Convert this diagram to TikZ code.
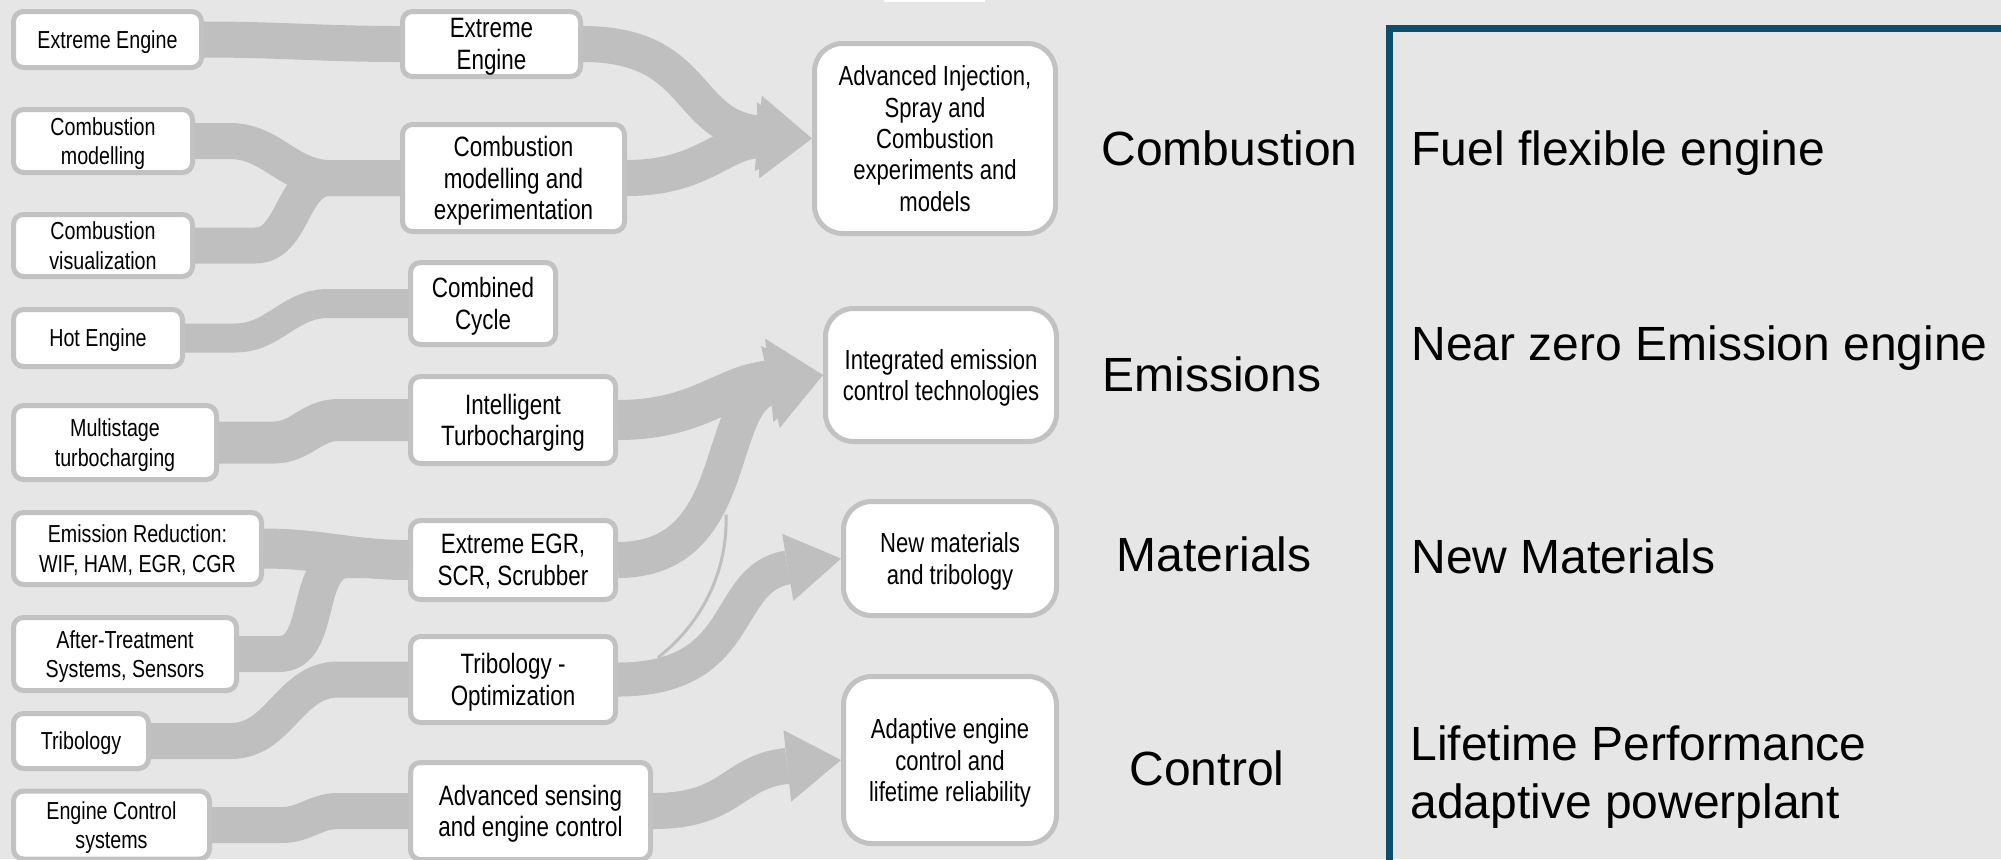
\documentclass[tikz,border=0pt]{standalone}
\usepackage{fontspec}
\setmainfont{Liberation Sans}
\newfontfamily\narrowfont[FakeStretch=0.8]{Liberation Sans}
\usetikzlibrary{arrows.meta, positioning, calc}
\definecolor{bggray}{HTML}{E6E6E6}
\definecolor{bandgray}{HTML}{BFBFBF}
\definecolor{rimgray}{HTML}{C2C2C2}
\definecolor{frameblue}{HTML}{0D4C6B}
\tikzset{
    srcbox/.style={draw=rimgray, line width=2.5pt, fill=white, rounded corners=5pt, inner sep=0pt, align=center, text depth=-2pt, font=\narrowfont\fontsize{12.3}{14.8}\selectfont},
    techbox/.style={srcbox, font=\narrowfont\fontsize{14}{15.8}\selectfont},
    goalbox/.style={srcbox, rounded corners=14pt, font=\narrowfont\fontsize{13.8}{15.7}\selectfont},
    band/.style={draw=bandgray, line width=18pt},
    bigband/.style={band, -{Triangle[length=27pt,width=#1,line width=0pt]}},
    bigband/.default=38pt,
    thinlink/.style={draw=bandgray, line width=1.5pt},
    areatext/.style={font=\fontsize{24}{28.7}\selectfont, inner sep=0pt},
}
\begin{document}
\begin{tikzpicture}[x=0.5pt, y=-0.5pt]
\useasboundingbox (0,0) rectangle (2001,859);
\clip (0,0) rectangle (2001,859);
\fill[bggray] (0,0) rectangle (2001,859);
\fill[white] (884,0) rectangle (985,1.5);

\node[srcbox, minimum width=94pt, minimum height=28pt] (l1) at (107.5,39.5) {Extreme Engine};
\node[srcbox, minimum width=89.5pt, minimum height=31.5pt] (l2) at (103,141) {Combustion\\modelling};
\node[srcbox, minimum width=89.5pt, minimum height=31pt] (l3) at (103,245.5) {Combustion\\visualization};
\node[srcbox, minimum width=84.5pt, minimum height=28.5pt] (l4) at (98,338) {Hot Engine};
\node[srcbox, minimum width=101.5pt, minimum height=37pt] (l5) at (115,442.5) {Multistage\\turbocharging};
\node[srcbox, minimum width=124pt, minimum height=36pt] (l6) at (137.5,548.5) {Emission Reduction:\\WIF, HAM, EGR, CGR};
\node[srcbox, minimum width=111.5pt, minimum height=36.5pt] (l7) at (125,654) {After-Treatment\\Systems, Sensors};
\node[srcbox, minimum width=67.5pt, minimum height=27.5pt] (l8) at (81,741) {Tribology};
\node[srcbox, minimum width=98pt, minimum height=34pt] (l9) at (111.5,825) {Engine Control\\systems};

\node[techbox, minimum width=89pt, minimum height=32.5pt] (m1) at (491.5,44) {Extreme\\Engine};
\node[techbox, minimum width=111pt, minimum height=53.5pt] (m2) at (513.5,178) {Combustion\\modelling and\\experimentation};
\node[techbox, minimum width=72.5pt, minimum height=41pt] (m3) at (483,303.5) {Combined\\Cycle};
\node[techbox, minimum width=102.5pt, minimum height=43.5pt] (m4) at (513,420) {Intelligent\\Turbocharging};
\node[techbox, minimum width=102.5pt, minimum height=39.5pt] (m5) at (513,560) {Extreme EGR,\\SCR, Scrubber};
\node[techbox, minimum width=102.5pt, minimum height=43pt] (m6) at (513,679.5) {Tribology -\\Optimization};
\node[techbox, minimum width=120pt, minimum height=48.5pt] (m7) at (530.5,811) {Advanced sensing\\and engine control};

\node[goalbox, minimum width=120.5pt, minimum height=95pt] (r1) at (935,138.5) {Advanced Injection,\\Spray and\\Combustion\\experiments and\\models};
\node[goalbox, minimum width=115.5pt, minimum height=66.5pt] (r2) at (941,375) {Integrated emission\\control technologies};
\node[goalbox, minimum width=106.5pt, minimum height=57pt] (r3) at (950,558.5) {New materials\\and tribology};
\node[goalbox, minimum width=106.5pt, minimum height=83.5pt] (r4) at (950,760) {Adaptive engine\\control and\\lifetime reliability};

\draw[band] (l1.east) to[out=0,in=180] (m1.west);
\draw[band] (l2.east) -- ++(35,0) to[out=0,in=180] ([xshift=-35pt]m2.west) -- (m2.west);
\draw[band] (l3.east) -- ++(60,0) to[out=0,in=180] ([xshift=-35pt]m2.west) -- (m2.west);
\draw[band, line width=14.5pt] (l4.east) -- ++(50,0) to[out=0,in=180] ([xshift=-40pt]m3.west) -- (m3.west);
\draw[band, line width=21pt] (l5.east) -- ++(55,0) to[out=0,in=180] ([xshift=-35pt]m4.west) -- (m4.west);
\draw[band, line width=20pt] (l6.east) to[out=0,in=180] (m5.west);
\draw[band] (l7.east) -- ++(40,0) to[out=0,in=180] ([xshift=-30pt]m5.west) -- (m5.west);
\draw[band] (l8.east) -- ++(80,0) to[out=0,in=180] ([xshift=-35pt]m6.west) -- (m6.west);
\draw[band] (l9.east) -- ++(70,0) to[out=0,in=180] ([xshift=-35pt]m7.west) -- (m7.west);

\draw[bigband] (m1.east) .. controls +(117,0) and +(-128,-12) .. (r1.west);
\draw[bigband] (m2.east) .. controls +(75,0) and +(-90,3) .. (r1.west);
\draw[bigband=42pt, line width=20pt] (m4.east) .. controls +(80,0) and +(-100,10) .. (r2.west);
\draw[bigband=42pt] (m5.east) .. controls +(125,0) and +(-110,25) .. (r2.west);
\draw[bigband=34pt, line width=17pt] (m6.east) .. controls +(130,0) and +(-120,20) .. (r3.west);
\draw[bigband=36pt] (m7.east) .. controls +(80,0) and +(-110,12) .. (r4.west);
\draw[thinlink] ([shift={(40,-22)}]m6.east) .. controls +(45,-35) and +(2,55) .. ([shift={(108,-165)}]m6.east);

\node[areatext, anchor=base] (comb) at (1229.5,165) {Combustion};
\node[areatext, anchor=base] (emis) at (1212,391) {Emissions};
\node[areatext, anchor=base] (mat) at (1214,571) {Materials};
\node[areatext, anchor=base] (ctrl) at (1207,785) {Control};

\draw[frameblue, line width=3.5pt] (1389.5,28.5) rectangle (2060,920);
\node[areatext, anchor=base west] (goal1) at (1411,165) {Fuel flexible engine};
\node[areatext, anchor=base west] (goal2) at (1411,360) {Near zero Emission engine};
\node[areatext, anchor=base west] (goal3) at (1411,573) {New Materials};
\node[areatext, anchor=west, align=left] (goal4) at (1410,777) {Lifetime Performance\\adaptive powerplant};
\end{tikzpicture}
\end{document}
